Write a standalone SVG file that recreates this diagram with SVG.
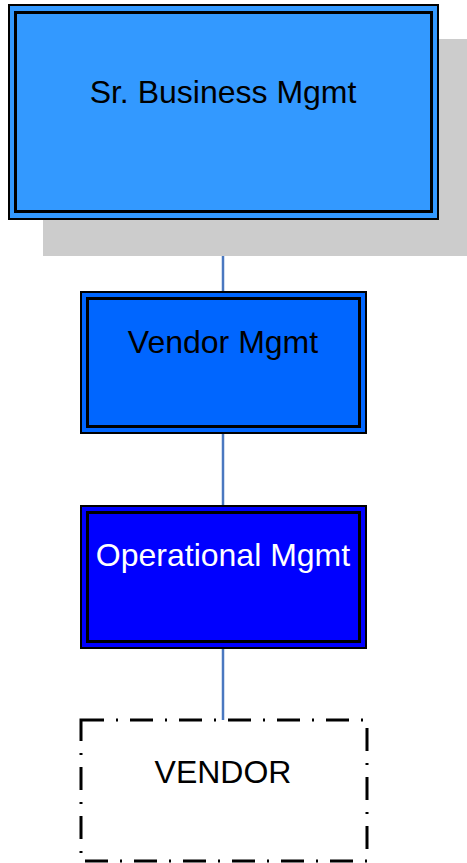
<svg xmlns="http://www.w3.org/2000/svg" width="467" height="863" viewBox="0 0 467 863">
  <style>
    .outer { stroke: #000; stroke-width: 2; }
    .inner { fill: none; stroke: #000; stroke-width: 3; }
    .label { font-family: "Liberation Sans", Arial, sans-serif; font-size: 32px; text-anchor: middle; }
    .link { stroke: #4a78c0; stroke-width: 2.5; fill: none; }
    .dashed { fill: none; stroke: #000; stroke-width: 3; stroke-dasharray: 23 12 2 12; }
  </style>
  <rect width="467" height="863" fill="#ffffff"/>

  <!-- connectors -->
  <g id="connectors">
    <line class="link" x1="223" y1="220" x2="223" y2="291"/>
    <line class="link" x1="223" y1="434" x2="223" y2="505"/>
    <line class="link" x1="223" y1="649" x2="223" y2="720"/>
  </g>

  <g id="sr-business-mgmt">
    <rect x="43" y="39" width="424" height="217" fill="#cccccc"/>
    <rect class="outer" x="9" y="5" width="429" height="214" fill="#3399ff"/>
    <rect class="inner" x="15.5" y="12.5" width="416" height="199"/>
    <text class="label" x="223" y="103" fill="#000">Sr. Business Mgmt</text>
  </g>

  <g id="vendor-mgmt">
    <rect class="outer" x="81" y="292" width="285" height="141" fill="#0066ff"/>
    <rect class="inner" x="87.5" y="298.5" width="272" height="128"/>
    <text class="label" x="223" y="353" fill="#000">Vendor Mgmt</text>
  </g>

  <g id="operational-mgmt">
    <rect class="outer" x="81" y="506" width="285" height="142" fill="#0000ff"/>
    <rect class="inner" x="87.5" y="512.5" width="272" height="129"/>
    <text class="label" x="223" y="566" fill="#ffffff">Operational Mgmt</text>
  </g>

  <g id="vendor">
    <rect class="dashed" x="81" y="720" width="286" height="141"/>
    <text class="label" x="223" y="783" fill="#000">VENDOR</text>
  </g>
</svg>
